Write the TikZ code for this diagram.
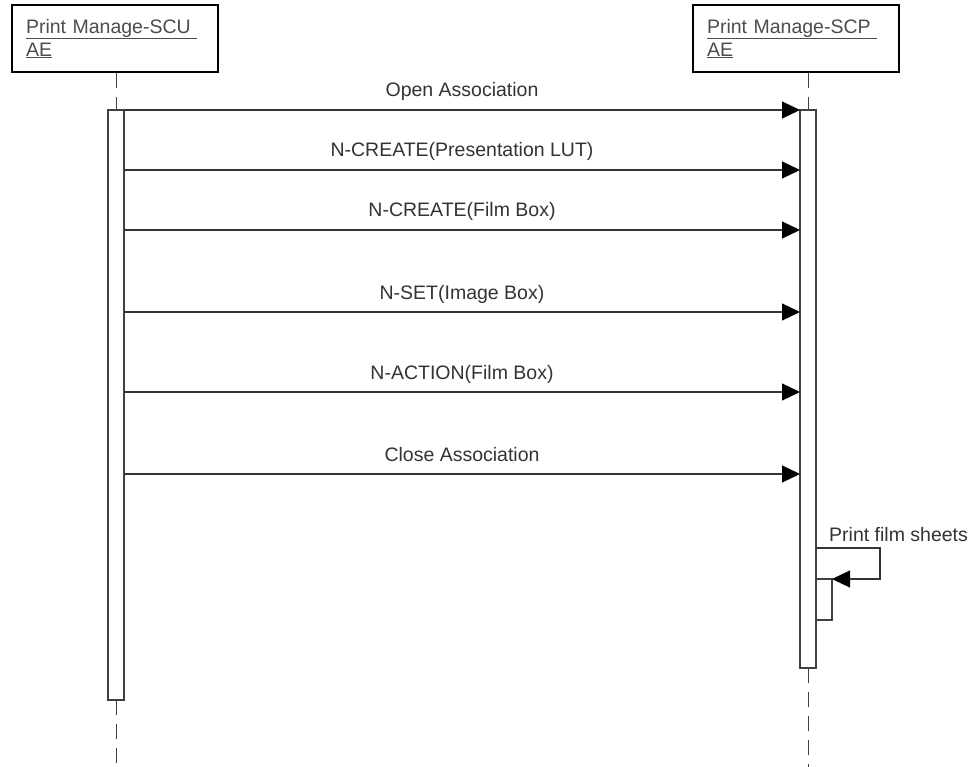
\documentclass[tikz,border=0pt]{standalone}
\usepackage{fontspec}
\setmainfont{Liberation Sans}
\usepackage{tikz}
\usetikzlibrary{arrows.meta, positioning}

\tikzset{
  actor/.style={draw=black, line width=2.6pt, rectangle, minimum height=67pt,
    text width=178pt, inner xsep=14pt, align=left, text=black!70},
  lifeline/.style={black!75, line width=1pt, dash pattern=on 15pt off 9pt},
  actbar/.style={draw=black!75, line width=1.1pt, fill=white},
  msg/.style={black!80, line width=1.2pt,
    -{Triangle[length=18pt,width=17pt,color=black]}},
  msglabel/.style={anchor=base, inner sep=0pt, yshift=13pt, text=black!80}
}

\begin{document}
\begin{tikzpicture}[x=1pt, y=-1pt, font=\fontsize{19.5}{23}\selectfont]
\useasboundingbox (0,0) rectangle (979,767);

% actors
\node[actor] (scu) at (115,38.5) {\underline{Print Manage-SCU\ }\\\underline{AE}};
\node[actor] (scp) at (796,38.5) {\underline{Print Manage-SCP\ }\\\underline{AE}};

% lifelines
\coordinate (scu top) at (116,110);
\coordinate (scu bot) at (116,700);
\coordinate (scu end) at (116,767);
\coordinate (scp top) at (808,110);
\coordinate (scp bot) at (808,668);
\coordinate (scp end) at (808,767);
\draw[lifeline] (scu.south -| scu top) -- (scu top);
\draw[lifeline] (scu bot) -- (scu end);
\draw[lifeline] (scp.south -| scp top) -- (scp top);
\draw[lifeline] (scp bot) -- (scp end);

% activation bars
\draw[actbar] (108,110) rectangle (124,700);
\draw[actbar] (800,110) rectangle (816,668);

% messages
\foreach \y/\txt in {110/Open Association, 170/N-CREATE(Presentation LUT),
    230/N-CREATE(Film Box), 312/N-SET(Image Box), 392/N-ACTION(Film Box),
    474/Close Association} {
  \coordinate (from) at (124,\y);
  \coordinate (to) at (800,\y);
  \draw[msg] (from) -- node[msglabel] {\txt} (to);
}

% self call
\draw[actbar] (816,579) rectangle (832,620);
\coordinate (self out) at (816,548);
\coordinate (self in) at (832,579);
\draw[msg] (self out) -- (880,548) |- (self in);
\node[anchor=base west, inner sep=0pt, text=black!80] (print) at (829,541) {Print film sheets};

\end{tikzpicture}
\end{document}
